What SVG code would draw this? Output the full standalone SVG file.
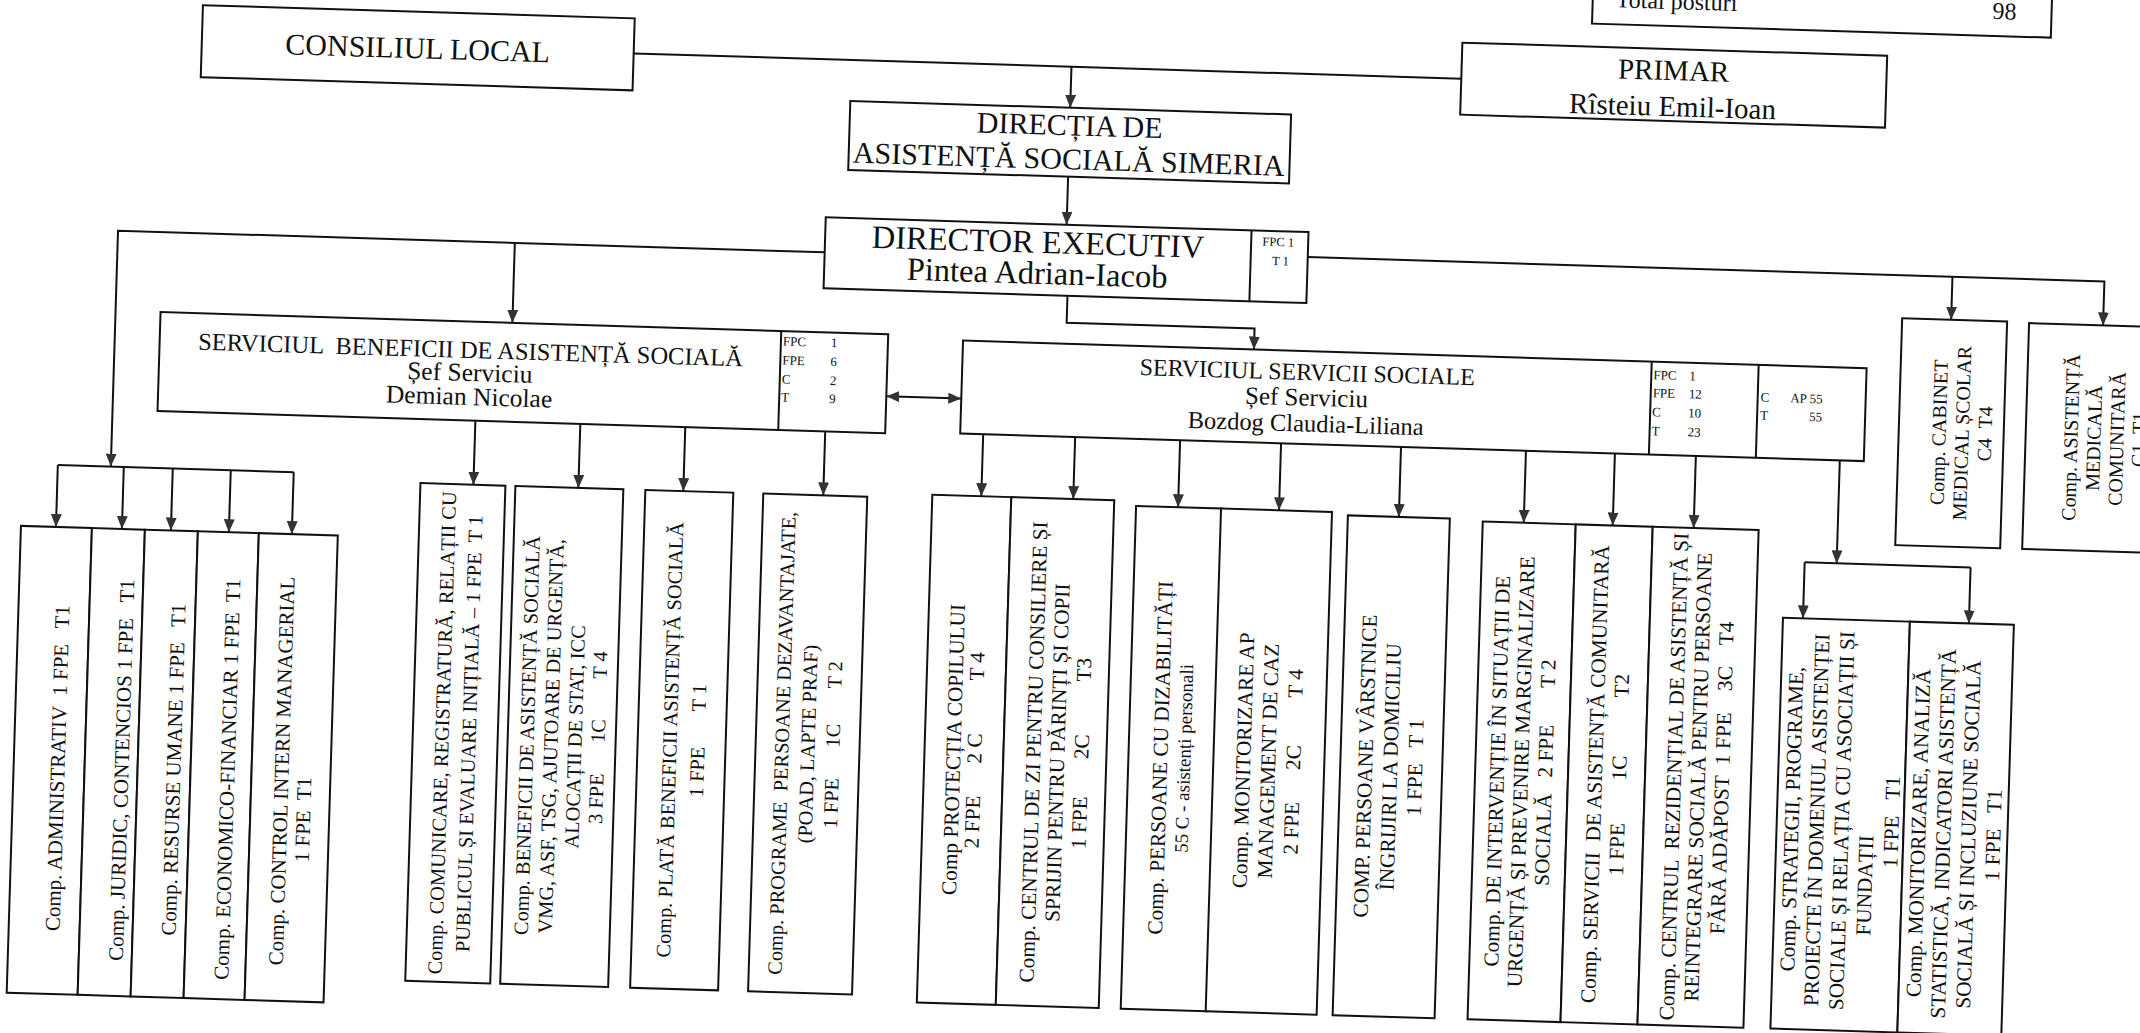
<svg xmlns="http://www.w3.org/2000/svg" width="2140" height="1033" viewBox="0 0 2140 1033">
<style>
.box{fill:#fff;stroke:#111;stroke-width:2}
.dv{stroke:#111;stroke-width:2;fill:none}
.c{stroke:#111;stroke-width:2;fill:none}
.a{marker-end:url(#ah)}
text{font-family:"Liberation Serif","Times New Roman",serif;fill:#111;white-space:pre;dominant-baseline:central}
.h30{font-size:30px;text-anchor:middle}
.h29{font-size:29px;text-anchor:middle}
.h32{font-size:32.5px;text-anchor:middle}
.h24{font-size:24.5px;text-anchor:middle}
.h25{font-size:25.5px;text-anchor:middle}
.s13{font-size:13px}
.vl{font-size:21px;text-anchor:middle}
.vm{font-size:20.4px;text-anchor:middle}
.vr{font-size:21.3px;text-anchor:middle}
.vc{font-size:20px;text-anchor:middle}
</style>
<defs>
<marker id="ah" viewBox="0 0 10 10" refX="10" refY="5" markerWidth="13" markerHeight="11" markerUnits="userSpaceOnUse" orient="auto-start-reverse" preserveAspectRatio="none">
<path d="M0,0 L10,5 L0,10 z" fill="#333"/>
</marker>
</defs>
<rect x="0" y="0" width="2140" height="1033" fill="#fff"/>
<g transform="rotate(1.75)">
<g id="connectors">
<path class="c" d="M635 34 H1463"/>
<path class="c a" d="M1073 34 V75"/>
<path class="c a" d="M1073 144 V192"/>
<path class="c a" d="M832 227 H125 V463"/>
<path class="c" d="M72 463 H308"/>
<path class="c a" d="M72 463 V525"/>
<path class="c a" d="M138 463 V525"/>
<path class="c a" d="M187 463 V525"/>
<path class="c a" d="M245 463 V525"/>
<path class="c a" d="M308 463 V525"/>
<path class="c a" d="M522 227 V307"/>
<path class="c a" d="M1076 263 V290 H1264 V311"/>
<path class="c a" d="M1315 217 H2112 V261"/>
<path class="c a" d="M1960 217 V260"/>
<path class="c" d="M898 369 H973" marker-start="url(#ah)" marker-end="url(#ah)"/>
<path class="c a" d="M488 406 V470"/>
<path class="c a" d="M593 406 V470"/>
<path class="c a" d="M698 406 V470"/>
<path class="c a" d="M838 406 V470"/>
<path class="c a" d="M996 404 V466"/>
<path class="c a" d="M1088 404 V466"/>
<path class="c a" d="M1193 404 V471"/>
<path class="c a" d="M1294 404 V471"/>
<path class="c a" d="M1414 404 V474"/>
<path class="c a" d="M1539 404 V476"/>
<path class="c a" d="M1628 404 V476"/>
<path class="c a" d="M1709 404 V476"/>
<path class="c a" d="M1853 404 V507"/>
<path class="c" d="M1821 507 H1987"/>
<path class="c a" d="M1821 507 V563"/>
<path class="c a" d="M1987 507 V563"/>
</g>

<g id="total">
<rect class="box" x="1592" y="-130" width="459" height="105"/>
<text x="1615" y="-50" style="font-size:24px">Total posturi</text>
<text x="2004" y="-50" style="font-size:24px;text-anchor:middle">98</text>
</g>

<g id="consiliul">
<rect class="box" x="203" y="-1" width="432" height="72"/>
<text class="h30" x="419" y="35">CONSILIUL LOCAL</text>
</g>

<g id="primar">
<rect class="box" x="1463" y="-2" width="425" height="72"/>
<text class="h29" x="1675" y="19">PRIMAR</text>
<text class="h29" x="1675" y="55">Rîsteiu Emil-Ioan</text>
</g>

<g id="directia">
<rect class="box" x="853" y="75" width="441" height="69"/>
<text class="h30" x="1073" y="92">DIRECȚIA DE</text>
<text class="h30" x="1073" y="126">ASISTENȚĂ SOCIALĂ SIMERIA</text>
</g>

<g id="director">
<rect class="box" x="832" y="192" width="483" height="71"/>
<line class="dv" x1="1258" y1="192" x2="1258" y2="263"/>
<text class="h32" x="1045" y="210">DIRECTOR EXECUTIV</text>
<text class="h32" x="1045" y="241">Pintea Adrian-Iacob</text>
<text style="font-size:12.5px;text-anchor:middle" x="1285" y="203">FPC 1</text>
<text style="font-size:12.5px;text-anchor:middle" x="1288" y="222">T 1</text>
</g>

<g id="serv-beneficii">
<rect class="box" x="170" y="307" width="728" height="99"/>
<line class="dv" x1="791" y1="307" x2="791" y2="406"/>
<text class="h24" x="481" y="335">SERVICIUL  BENEFICII DE ASISTENȚĂ SOCIALĂ</text>
<text class="h25" x="481" y="358">Șef Serviciu</text>
<text class="h25" x="481" y="382">Demian Nicolae</text>
<text class="s13" x="793" y="317">FPC</text><text class="s13" x="841" y="317">1</text>
<text class="s13" x="793" y="336">FPE</text><text class="s13" x="841" y="336">6</text>
<text class="s13" x="793" y="355">C</text><text class="s13" x="841" y="355">2</text>
<text class="s13" x="793" y="373">T</text><text class="s13" x="841" y="373">9</text>
</g>

<g id="serv-sociale">
<rect class="box" x="973" y="311" width="904" height="93"/>
<line class="dv" x1="1662" y1="311" x2="1662" y2="404"/>
<line class="dv" x1="1769" y1="311" x2="1769" y2="404"/>
<text style="font-size:24px;text-anchor:middle" x="1318" y="332">SERVICIUL SERVICII SOCIALE</text>
<text style="font-size:25px;text-anchor:middle" x="1318" y="357">Șef Serviciu</text>
<text style="font-size:24.5px;text-anchor:middle" x="1318" y="383">Bozdog Claudia-Liliana</text>
<text class="s13" x="1664" y="324">FPC</text><text class="s13" x="1700" y="324">1</text>
<text class="s13" x="1664" y="342">FPE</text><text class="s13" x="1700" y="342">12</text>
<text class="s13" x="1664" y="361">C</text><text class="s13" x="1700" y="361">10</text>
<text class="s13" x="1664" y="380">T</text><text class="s13" x="1700" y="380">23</text>
<text class="s13" x="1772" y="343">C</text><text class="s13" x="1834" y="343" style="text-anchor:end">AP 55</text>
<text class="s13" x="1772" y="361">T</text><text class="s13" x="1834" y="361" style="text-anchor:end">55</text>
</g>

<g id="cabinet">
<rect class="box" x="1911" y="260" width="105" height="227"/>
<g transform="translate(0,373) rotate(-90)"><text class="vc"><tspan x="0" y="1951">Comp. CABINET</tspan><tspan x="0" y="1974">MEDICAL ȘCOLAR</tspan><tspan x="0" y="1997">C4  T4</tspan></text></g>
</g>

<g id="asistenta-medicala">
<rect class="box" x="2038" y="261" width="146" height="226"/>
<g transform="translate(0,374) rotate(-90)"><text class="vc"><tspan x="0" y="2083">Comp. ASISTENȚĂ</tspan><tspan x="0" y="2106">MEDICALĂ</tspan><tspan x="0" y="2129">COMUNITARĂ</tspan><tspan x="0" y="2151">C1  T1</tspan></text></g>
</g>

<g id="comp-administrativ">
<rect class="box" x="37" y="525" width="71" height="467"/>
<g transform="translate(0,766) rotate(-90)"><text class="vl"><tspan x="0" y="81">Comp. ADMINISTRATIV  1 FPE   T1</tspan></text></g>
</g>
<g id="comp-juridic">
<rect class="box" x="108" y="525" width="53" height="467"/>
<g transform="translate(0,766) rotate(-90)"><text class="vl"><tspan x="0" y="145">Comp. JURIDIC, CONTENCIOS 1 FPE   T1</tspan></text></g>
</g>
<g id="comp-resurse">
<rect class="box" x="161" y="525" width="53" height="467"/>
<g transform="translate(0,764) rotate(-90)"><text class="vl"><tspan x="0" y="197">Comp. RESURSE UMANE 1 FPE   T1</tspan></text></g>
</g>
<g id="comp-economico">
<rect class="box" x="214" y="525" width="61" height="467"/>
<g transform="translate(0,772) rotate(-90)"><text class="vl"><tspan x="0" y="251">Comp. ECONOMICO-FINANCIAR 1 FPE  T1</tspan></text></g>
</g>
<g id="comp-control">
<rect class="box" x="275" y="525" width="79" height="467"/>
<g transform="translate(0,762) rotate(-90)"><text class="vl"><tspan x="0" y="305">Comp. CONTROL INTERN MANAGERIAL</tspan></text></g>
<g transform="translate(0,810) rotate(-90)"><text class="vl"><tspan x="0" y="328">1 FPE  T1</tspan></text></g>
</g>

<g id="comp-comunicare">
<rect class="box" x="435" y="470" width="85" height="498"/>
<g transform="translate(0,719) rotate(-90)"><text class="vm"><tspan x="0" y="464">Comp. COMUNICARE, REGISTRATURĂ, RELAȚII CU</tspan><tspan x="0" y="491">PUBLICUL ȘI EVALUARE INIȚIALĂ – 1 FPE  T 1</tspan></text></g>
</g>
<g id="comp-beneficii">
<rect class="box" x="530" y="470" width="108" height="498"/>
<g transform="translate(0,719) rotate(-90)"><text class="vm"><tspan x="0" y="549">Comp. BENEFICII DE ASISTENȚĂ SOCIALĂ</tspan><tspan x="0" y="573">VMG, ASF, TSG, AJUTOARE DE URGENȚĂ,</tspan><tspan x="0" y="597">ALOCAȚII DE STAT, ICC</tspan><tspan x="0" y="620">3 FPE      1C        T 4</tspan></text></g>
</g>
<g id="comp-plata">
<rect class="box" x="660" y="470" width="88" height="498"/>
<g transform="translate(0,719) rotate(-90)"><text class="vm"><tspan x="0" y="692">Comp. PLATĂ BENEFICII ASISTENȚĂ SOCIALĂ</tspan><tspan x="0" y="720">1 FPE       T 1</tspan></text></g>
</g>
<g id="comp-programe">
<rect class="box" x="778" y="470" width="104" height="498"/>
<g transform="translate(0,719) rotate(-90)"><text class="vm"><tspan x="0" y="804">Comp. PROGRAME  PERSOANE DEZAVANTAJATE,</tspan><tspan x="0" y="830">(POAD, LAPTE PRAF)</tspan><tspan x="0" y="855">1 FPE      1C       T 2</tspan></text></g>
</g>

<g id="comp-protectia">
<rect class="box" x="947" y="466" width="79" height="508"/>
<g transform="translate(0,720) rotate(-90)"><text class="vr"><tspan x="0" y="976">Comp PROTECȚIA COPILULUI</tspan><tspan x="0" y="997">2 FPE      2 C          T 4</tspan></text></g>
</g>
<g id="comp-centrul-zi">
<rect class="box" x="1026" y="466" width="103" height="508"/>
<g transform="translate(0,720) rotate(-90)"><text class="vr"><tspan x="0" y="1056">Comp. CENTRUL DE ZI PENTRU CONSILIERE ȘI</tspan><tspan x="0" y="1080">SPRIJIN PENTRU PĂRINȚI ȘI COPII</tspan><tspan x="0" y="1104">1 FPE       2C          T3</tspan></text></g>
</g>
<g id="comp-dizabilitati">
<rect class="box" x="1151" y="471" width="86" height="503"/>
<g transform="translate(0,722) rotate(-90)"><text class="vr"><tspan x="0" y="1183">Comp. PERSOANE CU DIZABILITĂȚI</tspan><tspan x="0" y="1206" style="font-size:19px">55 C - asistenți personali</tspan></text></g>
</g>
<g id="comp-monitorizare-ap">
<rect class="box" x="1236" y="471" width="111" height="503"/>
<g transform="translate(0,722) rotate(-90)"><text class="vr"><tspan x="0" y="1266">Comp. MONITORIZARE AP</tspan><tspan x="0" y="1291">MANAGEMENT DE CAZ</tspan><tspan x="0" y="1316">2 FPE      2C         T 4</tspan></text></g>
</g>
<g id="comp-varstnice">
<rect class="box" x="1363" y="474" width="102" height="500"/>
<g transform="translate(0,724) rotate(-90)"><text class="vr"><tspan x="0" y="1388">COMP. PERSOANE VÂRSTNICE</tspan><tspan x="0" y="1413">ÎNGRIJIRI LA DOMICILIU</tspan><tspan x="0" y="1438">1 FPE   T 1</tspan></text></g>
</g>
<g id="comp-interventie">
<rect class="box" x="1498" y="476" width="93" height="498"/>
<g transform="translate(0,725) rotate(-90)"><text class="vr"><tspan x="0" y="1520">Comp. DE INTERVENȚIE ÎN SITUAȚII DE</tspan><tspan x="0" y="1544">URGENȚĂ ȘI PREVENIRE MARGINALIZARE</tspan><tspan x="0" y="1568">SOCIALĂ   2 FPE       T 2</tspan></text></g>
</g>
<g id="comp-asistenta-comunitara">
<rect class="box" x="1591" y="476" width="77" height="498"/>
<g transform="translate(0,725) rotate(-90)"><text class="vr"><tspan x="0" y="1618">Comp. SERVICII  DE ASISTENȚĂ COMUNITARĂ</tspan><tspan x="0" y="1642">1 FPE        1C           T2</tspan></text></g>
</g>
<g id="comp-centrul-rezidential">
<rect class="box" x="1668" y="476" width="106" height="498"/>
<g transform="translate(0,725) rotate(-90)"><text class="vr"><tspan x="0" y="1697">Comp. CENTRUL  REZIDENȚIAL DE ASISTENȚĂ ȘI</tspan><tspan x="0" y="1721">REINTEGRARE SOCIALĂ PENTRU PERSOANE</tspan><tspan x="0" y="1745">FĂRĂ ADĂPOST  1 FPE    3C    T4</tspan></text></g>
</g>
<g id="comp-strategii">
<rect class="box" x="1801" y="563" width="127" height="411"/>
<g transform="translate(0,764) rotate(-90)"><text class="vr"><tspan x="0" y="1816">Comp. STRATEGII, PROGRAME,</tspan><tspan x="0" y="1841">PROIECTE ÎN DOMENIUL ASISTENȚEI</tspan><tspan x="0" y="1866">SOCIALE ȘI RELAȚIA CU ASOCIAȚII ȘI</tspan><tspan x="0" y="1916">1 FPE   T1</tspan></text></g>
<g transform="translate(0,828) rotate(-90)"><text class="vr"><tspan x="0" y="1891">FUNDAȚII</tspan></text></g>
</g>
<g id="comp-monitorizare-analiza">
<rect class="box" x="1928" y="563" width="104" height="411"/>
<g transform="translate(0,774) rotate(-90)"><text class="vr"><tspan x="0" y="1943">Comp. MONITORIZARE, ANALIZĂ</tspan><tspan x="0" y="1968">STATISTICĂ, INDICATORI ASISTENȚĂ</tspan><tspan x="0" y="1993">SOCIALĂ ȘI INCLUZIUNE SOCIALĂ</tspan><tspan x="0" y="2018">1 FPE   T1</tspan></text></g>
</g>
</g>
</svg>
